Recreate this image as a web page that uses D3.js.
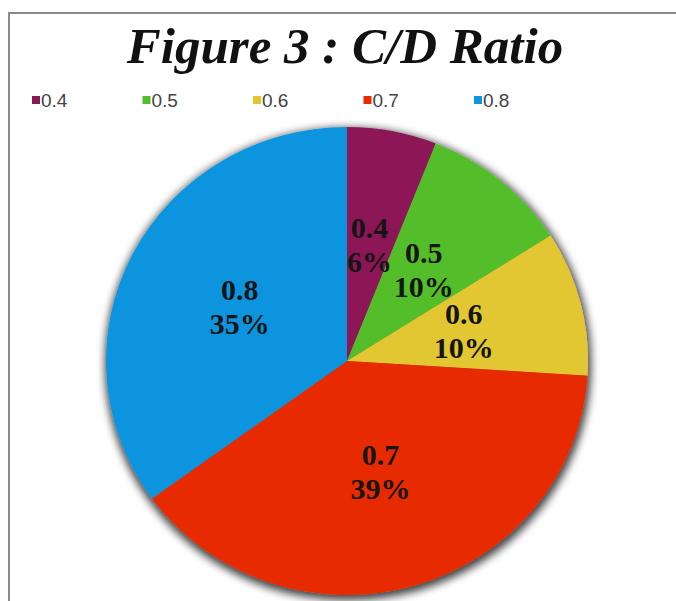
<!DOCTYPE html>
<html>
<head>
<meta charset="utf-8">
<script src="https://cdn.jsdelivr.net/npm/d3@7"></script>
<style>
  body { margin: 0; background: #fff; }
</style>
</head>
<body>
<div id="chart-area"></div>
<script>
var categories = ["0.4", "0.5", "0.6", "0.7", "0.8"];
var shares = [6, 10, 10, 39, 35];
var colors = ["#8c1656", "#52be2c", "#e2c630", "#e82a00", "#1094de"];

var width = 676;
var height = 601;
var cx = 347, cy = 361;
var rx = 241, ry = 234;

var svg = d3.select("#chart-area").append("svg")
    .attr("width", width)
    .attr("height", height);

var defs = svg.append("defs");
var filter = defs.append("filter")
    .attr("id", "shadow")
    .attr("x", "-10%").attr("y", "-10%")
    .attr("width", "120%").attr("height", "120%");
filter.append("feMorphology")
    .attr("in", "SourceAlpha")
    .attr("operator", "dilate")
    .attr("radius", 2)
    .attr("result", "grown");
filter.append("feGaussianBlur")
    .attr("in", "grown")
    .attr("stdDeviation", 4)
    .attr("result", "blur");
filter.append("feOffset")
    .attr("in", "blur")
    .attr("dx", 1).attr("dy", 3)
    .attr("result", "off");
filter.append("feComponentTransfer")
    .attr("in", "off")
    .attr("result", "shade")
    .append("feFuncA")
    .attr("type", "linear")
    .attr("slope", 0.75);
var merge = filter.append("feMerge");
merge.append("feMergeNode").attr("in", "shade");
merge.append("feMergeNode").attr("in", "SourceGraphic");

// frame
svg.append("rect")
    .attr("x", 9).attr("y", 13)
    .attr("width", 800).attr("height", 800)
    .attr("fill", "none")
    .attr("stroke", "#8a8a8a")
    .attr("stroke-width", 2);

svg.append("text")
    .attr("x", 345)
    .attr("y", 63)
    .attr("text-anchor", "middle")
    .attr("font-family", "Liberation Serif, Times New Roman, serif")
    .attr("font-weight", "bold")
    .attr("font-style", "italic")
    .attr("font-size", 51)
    .attr("fill", "#111")
    .text("Figure 3 : C/D Ratio");

var color = d3.scaleOrdinal().domain(categories).range(colors);
var legendX = d3.scalePoint().domain(categories).range([32, 474]);

var legend = svg.selectAll(".legend")
    .data(categories)
    .enter().append("g")
    .attr("class", "legend")
    .attr("transform", function(d) { return "translate(" + legendX(d) + ",0)"; });
legend.append("rect")
    .attr("x", 0).attr("y", 96)
    .attr("width", 8).attr("height", 8)
    .attr("fill", function(d) { return color(d); });
legend.append("text")
    .attr("x", 9).attr("y", 107)
    .attr("font-family", "Liberation Sans, Arial, sans-serif")
    .attr("font-size", 19)
    .attr("fill", "#444")
    .text(function(d) { return d; });

var data = categories.map(function(c, i) { return {cat: c, value: shares[i]}; });
var pie = d3.pie().sort(null).value(function(d) { return d.value; });
var arc = d3.arc().innerRadius(0).outerRadius(ry);
var arcs = pie(data);

var g = svg.append("g")
    .attr("transform", "translate(" + cx + "," + cy + ")");
var pieG = g.append("g")
    .attr("filter", "url(#shadow)")
    .attr("transform", "scale(" + (rx / ry) + ",1)");
pieG.selectAll("path")
    .data(arcs)
    .enter().append("path")
    .attr("d", arc)
    .attr("fill", function(d) { return color(d.data.cat); });

var labels = g.selectAll(".label")
    .data(arcs)
    .enter().append("text")
    .attr("class", "label")
    .attr("text-anchor", "middle")
    .attr("font-family", "Liberation Serif, Times New Roman, serif")
    .attr("font-weight", "bold")
    .attr("font-size", 30)
    .attr("fill", "#151515")
    .attr("transform", function(d) {
      var c = arc.centroid(d);
      return "translate(" + (c[0] * rx / ry) + "," + c[1] + ")";
    });
labels.append("tspan")
    .attr("x", 0).attr("y", -8)
    .text(function(d) { return d.data.cat; });
labels.append("tspan")
    .attr("x", 0).attr("y", 26)
    .text(function(d) { return d.data.value + "%"; });
</script>
</body>
</html>
